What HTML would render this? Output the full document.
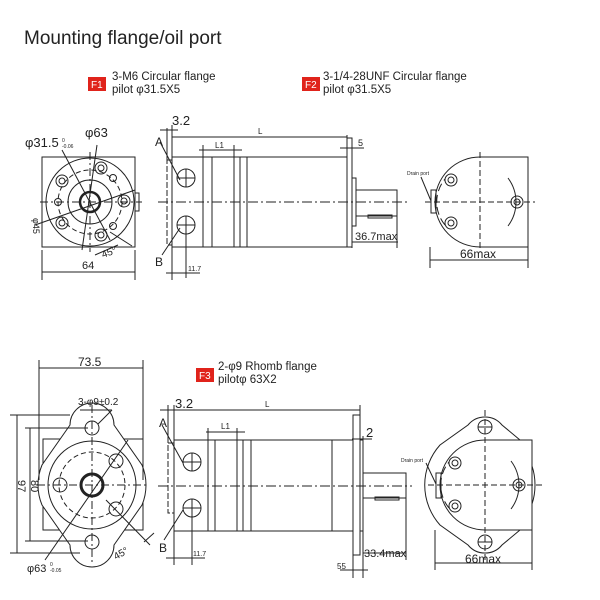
<!DOCTYPE html>
<html><head><meta charset="utf-8"><style>
html,body{margin:0;padding:0;background:#fff;}
svg{display:block;}
text{font-family:"Liberation Sans",sans-serif;fill:#222;}
</style></head><body>
<svg width="600" height="600" viewBox="0 0 600 600" xmlns="http://www.w3.org/2000/svg">
<g stroke="#222" stroke-width="1" fill="none">
<!-- ===== TOP LEFT FRONT VIEW ===== -->
<rect x="42" y="157" width="93" height="90"/>
<circle cx="90" cy="202" r="44" fill="#fff"/>
<circle cx="90" cy="202" r="32" stroke-dasharray="5,3"/>
<circle cx="90" cy="202" r="22"/>
<circle cx="90" cy="202" r="10" stroke-width="2.5"/>
<circle cx="101" cy="168" r="6"/><circle cx="101" cy="168" r="3"/>
<circle cx="124" cy="201" r="6"/><circle cx="124" cy="201" r="3"/>
<circle cx="101" cy="235" r="6"/><circle cx="101" cy="235" r="3"/>
<circle cx="62" cy="181" r="6"/><circle cx="62" cy="181" r="3"/>
<circle cx="62" cy="223" r="6"/><circle cx="62" cy="223" r="3"/>
<circle cx="113" cy="178" r="3.5"/>
<circle cx="113" cy="226" r="3.5"/>
<circle cx="58" cy="202" r="3.5"/>
<rect x="135" y="193" width="4" height="18"/>
<line x1="40" y1="202" x2="142" y2="202" stroke-dasharray="8,3,2,3"/>
<line x1="90" y1="152" x2="90" y2="252" stroke-dasharray="8,3,2,3"/>
<line x1="62" y1="150" x2="110" y2="240"/>
<line x1="97" y1="145" x2="82" y2="250"/>
<line x1="35" y1="225" x2="135" y2="190"/>
<line x1="95" y1="255" x2="118" y2="245"/>
<line x1="110" y1="232" x2="132" y2="246"/>
<line x1="42" y1="250" x2="42" y2="280"/><line x1="135" y1="250" x2="135" y2="280"/>
<line x1="42" y1="272" x2="135" y2="272"/>
<!-- ===== TOP SIDE VIEW ===== -->
<rect x="167" y="160" width="5" height="85" stroke-dasharray="6,2"/>
<rect x="172" y="157" width="175" height="90"/>
<line x1="203" y1="157" x2="203" y2="247"/><line x1="212" y1="157" x2="212" y2="247"/>
<line x1="234" y1="157" x2="234" y2="247"/><line x1="240" y1="157" x2="240" y2="247"/>
<line x1="247" y1="157" x2="247" y2="247"/>
<rect x="347" y="138" width="5" height="109"/>
<rect x="352" y="178" width="4" height="48"/>
<rect x="356" y="190" width="41" height="26"/>
<rect x="368" y="215" width="24" height="3"/>
<circle cx="186" cy="178" r="9"/><line x1="177" y1="178" x2="195" y2="178"/><line x1="186" y1="169" x2="186" y2="187"/>
<circle cx="186" cy="225" r="9"/><line x1="177" y1="225" x2="195" y2="225"/><line x1="186" y1="216" x2="186" y2="234"/>
<line x1="160" y1="142" x2="180" y2="180"/>
<line x1="162" y1="255" x2="180" y2="228"/>
<line x1="158" y1="202" x2="410" y2="202" stroke-dasharray="10,3,2,3"/>
<line x1="167" y1="128" x2="167" y2="160"/><line x1="172" y1="125" x2="172" y2="157"/>
<line x1="160" y1="130" x2="178" y2="130"/>
<line x1="172" y1="137" x2="347" y2="137"/>
<line x1="347" y1="135" x2="347" y2="140"/>
<line x1="199" y1="150" x2="242" y2="150"/>
<line x1="203" y1="145" x2="203" y2="157"/><line x1="234" y1="145" x2="234" y2="157"/>
<line x1="340" y1="148" x2="364" y2="148"/>
<line x1="352" y1="142" x2="352" y2="178"/>
<line x1="352" y1="242" x2="398" y2="242"/>
<line x1="397" y1="216" x2="397" y2="248"/><line x1="352" y1="226" x2="352" y2="248"/>
<line x1="172" y1="247" x2="172" y2="280"/><line x1="186" y1="234" x2="186" y2="278"/>
<line x1="166" y1="273" x2="200" y2="273"/>
<!-- ===== TOP RIGHT VIEW ===== -->
<path d="M480,157 L528,157 L528,247 L480,247 A45,45 0 0 1 480,157 Z"/>
<line x1="480" y1="152" x2="480" y2="252" stroke-dasharray="6,3"/>
<line x1="425" y1="202" x2="535" y2="202" stroke-dasharray="6,3"/>
<circle cx="451" cy="180" r="6"/><circle cx="451" cy="180" r="3"/>
<circle cx="451" cy="223" r="6"/><circle cx="451" cy="223" r="3"/>
<circle cx="517" cy="202" r="6"/><circle cx="517" cy="202" r="3"/>
<path d="M445,225 A36 36 0 0 1 445,179" stroke-dasharray="8,4"/>
<path d="M508,178 A40 40 0 0 1 508,226"/>
<rect x="431" y="190" width="5" height="23"/>
<line x1="421" y1="177" x2="431" y2="201"/>
<line x1="430" y1="247" x2="430" y2="268"/><line x1="528" y1="247" x2="528" y2="268"/>
<line x1="430" y1="260" x2="528" y2="260"/>
<!-- ===== BOTTOM LEFT FRONT VIEW ===== -->
<rect x="43" y="439" width="100" height="91"/>
<path d="M70,425 A22,22 0 0 1 114,425 L142,465 A52,52 0 0 1 142,505 L114,545 A22,22 0 0 1 70,545 L42,505 A52,52 0 0 1 42,465 Z" fill="#fff"/>
<circle cx="92" cy="485" r="44"/>
<circle cx="92" cy="485" r="33" stroke-dasharray="5,3"/>
<circle cx="92" cy="485" r="11" stroke-width="3"/>
<circle cx="92" cy="428" r="7"/><circle cx="92" cy="542" r="7"/>
<circle cx="60" cy="485" r="7"/>
<circle cx="116" cy="461" r="7"/><circle cx="116" cy="509" r="7"/>
<line x1="37" y1="485" x2="148" y2="485" stroke-dasharray="8,3,2,3"/>
<line x1="92" y1="405" x2="92" y2="565" stroke-dasharray="8,3,2,3"/>
<line x1="45" y1="560" x2="128" y2="440"/>
<line x1="106" y1="500" x2="150" y2="545"/>
<line x1="144" y1="542" x2="154" y2="533"/>
<line x1="80" y1="410" x2="112" y2="410"/><line x1="112" y1="410" x2="98" y2="424"/>
<line x1="39" y1="360" x2="39" y2="480"/><line x1="143" y1="360" x2="143" y2="480"/>
<line x1="39" y1="368" x2="143" y2="368"/>
<line x1="10" y1="415" x2="70" y2="415"/><line x1="10" y1="553" x2="80" y2="553"/>
<line x1="17" y1="415" x2="17" y2="553"/>
<line x1="25" y1="428" x2="88" y2="428"/><line x1="25" y1="541" x2="88" y2="541"/>
<line x1="30" y1="428" x2="30" y2="541"/>
<!-- ===== BOTTOM SIDE VIEW ===== -->
<rect x="168" y="443" width="6" height="70" stroke-dasharray="6,2"/>
<rect x="174" y="440" width="179" height="91"/>
<line x1="208" y1="440" x2="208" y2="531"/><line x1="215" y1="440" x2="215" y2="531"/>
<line x1="237" y1="440" x2="237" y2="531"/><line x1="243" y1="440" x2="243" y2="531"/>
<line x1="251" y1="440" x2="251" y2="531"/><line x1="332" y1="440" x2="332" y2="531"/>
<rect x="353" y="415" width="7" height="140"/>
<rect x="360" y="440" width="3" height="91"/>
<rect x="363" y="473" width="43" height="25"/>
<rect x="375" y="497" width="24" height="3"/>
<circle cx="192" cy="462" r="9"/><line x1="183" y1="462" x2="201" y2="462"/><line x1="192" y1="453" x2="192" y2="471"/>
<circle cx="192" cy="508" r="9"/><line x1="183" y1="508" x2="201" y2="508"/><line x1="192" y1="499" x2="192" y2="517"/>
<line x1="162" y1="425" x2="183" y2="463"/>
<line x1="164" y1="540" x2="183" y2="510"/>
<line x1="158" y1="486" x2="412" y2="486" stroke-dasharray="10,3,2,3"/>
<line x1="168" y1="405" x2="168" y2="443"/><line x1="174" y1="405" x2="174" y2="440"/>
<line x1="160" y1="410" x2="180" y2="410"/>
<line x1="174" y1="410" x2="360" y2="410"/>
<line x1="360" y1="405" x2="360" y2="415"/>
<line x1="206" y1="432" x2="245" y2="432"/>
<line x1="208" y1="428" x2="208" y2="440"/><line x1="237" y1="428" x2="237" y2="440"/>
<line x1="352" y1="439" x2="372" y2="439"/>
<line x1="363" y1="436" x2="363" y2="440"/>
<line x1="363" y1="553" x2="406" y2="553"/>
<line x1="406" y1="498" x2="406" y2="560"/><line x1="363" y1="531" x2="363" y2="578"/>
<line x1="353" y1="555" x2="353" y2="578"/>
<line x1="340" y1="570" x2="368" y2="570"/>
<line x1="174" y1="531" x2="174" y2="565"/><line x1="192" y1="517" x2="192" y2="565"/>
<line x1="166" y1="558" x2="205" y2="558"/>
<!-- ===== BOTTOM RIGHT VIEW ===== -->
<path d="M468,425 A22,22 0 0 1 502,425 L520,440 L532,440 L532,530 L520,530 L502,545 A22,22 0 0 1 468,545 L440,525 A60,60 0 0 1 440,445 Z" fill="#fff"/>
<path d="M485,440 L532,440 L532,530 L485,530 A45,45 0 0 1 485,440 Z"/>
<path d="M532,466 A25 40 0 0 1 532,504"/>
<circle cx="485" cy="427" r="7"/><circle cx="485" cy="542" r="7"/>
<line x1="478" y1="427" x2="492" y2="427"/><line x1="478" y1="542" x2="492" y2="542"/>
<line x1="485" y1="410" x2="485" y2="560" stroke-dasharray="6,3"/>
<line x1="428" y1="485" x2="542" y2="485" stroke-dasharray="6,3"/>
<circle cx="455" cy="463" r="6"/><circle cx="455" cy="463" r="3"/>
<circle cx="455" cy="506" r="6"/><circle cx="455" cy="506" r="3"/>
<circle cx="519" cy="485" r="6"/><circle cx="519" cy="485" r="3"/>
<path d="M449,508 A36 36 0 0 1 449,462" stroke-dasharray="8,4"/>
<path d="M511,461 A40 40 0 0 1 511,509"/>
<rect x="436" y="473" width="5" height="25"/>
<line x1="426" y1="463" x2="436" y2="484"/>
<line x1="435" y1="530" x2="435" y2="570"/><line x1="532" y1="530" x2="532" y2="570"/>
<line x1="435" y1="563" x2="532" y2="563"/>
</g>

<!-- ===== TEXT ===== -->
<text x="24" y="44" font-size="19">Mounting flange/oil port</text>
<rect x="88" y="77" width="18" height="14" fill="#e0231b"/>
<text x="91" y="88" font-size="10" style="fill:#fff">F1</text>
<text x="112" y="80" font-size="11.5">3-M6 Circular flange</text>
<text x="112" y="93" font-size="11.5">pilot φ31.5X5</text>
<rect x="302" y="77" width="18" height="14" fill="#e0231b"/>
<text x="305" y="88" font-size="10" style="fill:#fff">F2</text>
<text x="323" y="80" font-size="11.5">3-1/4-28UNF Circular flange</text>
<text x="323" y="93" font-size="11.5">pilot φ31.5X5</text>
<rect x="196" y="368" width="18" height="14" fill="#e0231b"/>
<text x="199" y="379" font-size="10" style="fill:#fff">F3</text>
<text x="218" y="370" font-size="11.5">2-φ9 Rhomb flange</text>
<text x="218" y="383" font-size="11.5">pilotφ 63X2</text>

<text x="25" y="147" font-size="13">φ31.5</text>
<text x="62" y="142" font-size="5">0</text><text x="62" y="148" font-size="5">-0.06</text>
<text x="85" y="137" font-size="13">φ63</text>
<text x="82" y="269" font-size="11">64</text>
<text x="103" y="258" font-size="10" transform="rotate(-20 103 258)">45°</text>
<text x="33" y="218" font-size="9" transform="rotate(90 33 218)">φ45</text>
<text x="172" y="125" font-size="13">3.2</text>
<text x="155" y="146" font-size="12">A</text>
<text x="155" y="266" font-size="12">B</text>
<text x="258" y="134" font-size="8">L</text>
<text x="215" y="148" font-size="8">L1</text>
<text x="358" y="146" font-size="9">5</text>
<text x="355" y="240" font-size="11">36.7max</text>
<text x="188" y="271" font-size="7">11.7</text>
<text x="407" y="175" font-size="5">Drain port</text>
<text x="460" y="258" font-size="12">66max</text>

<text x="78" y="366" font-size="12">73.5</text>
<text x="78" y="405" font-size="10">3-φ9±0.2</text>
<text x="18" y="480" font-size="11" transform="rotate(90 18 480)">97</text>
<text x="31" y="480" font-size="11" transform="rotate(90 31 480)">80</text>
<text x="27" y="572" font-size="11">φ63</text>
<text x="50" y="566" font-size="5">0</text><text x="50" y="572" font-size="5">-0.05</text>
<text x="116" y="560" font-size="10" transform="rotate(-30 116 560)">45°</text>
<text x="175" y="408" font-size="13">3.2</text>
<text x="159" y="427" font-size="12">A</text>
<text x="159" y="552" font-size="12">B</text>
<text x="265" y="407" font-size="8">L</text>
<text x="221" y="429" font-size="8">L1</text>
<text x="366" y="437" font-size="13">2</text>
<text x="364" y="557" font-size="11">33.4max</text>
<text x="337" y="569" font-size="8">55</text>
<text x="193" y="556" font-size="7">11.7</text>
<text x="401" y="462" font-size="5">Drain port</text>
<text x="465" y="563" font-size="12">66max</text>
</svg>
</body></html>
